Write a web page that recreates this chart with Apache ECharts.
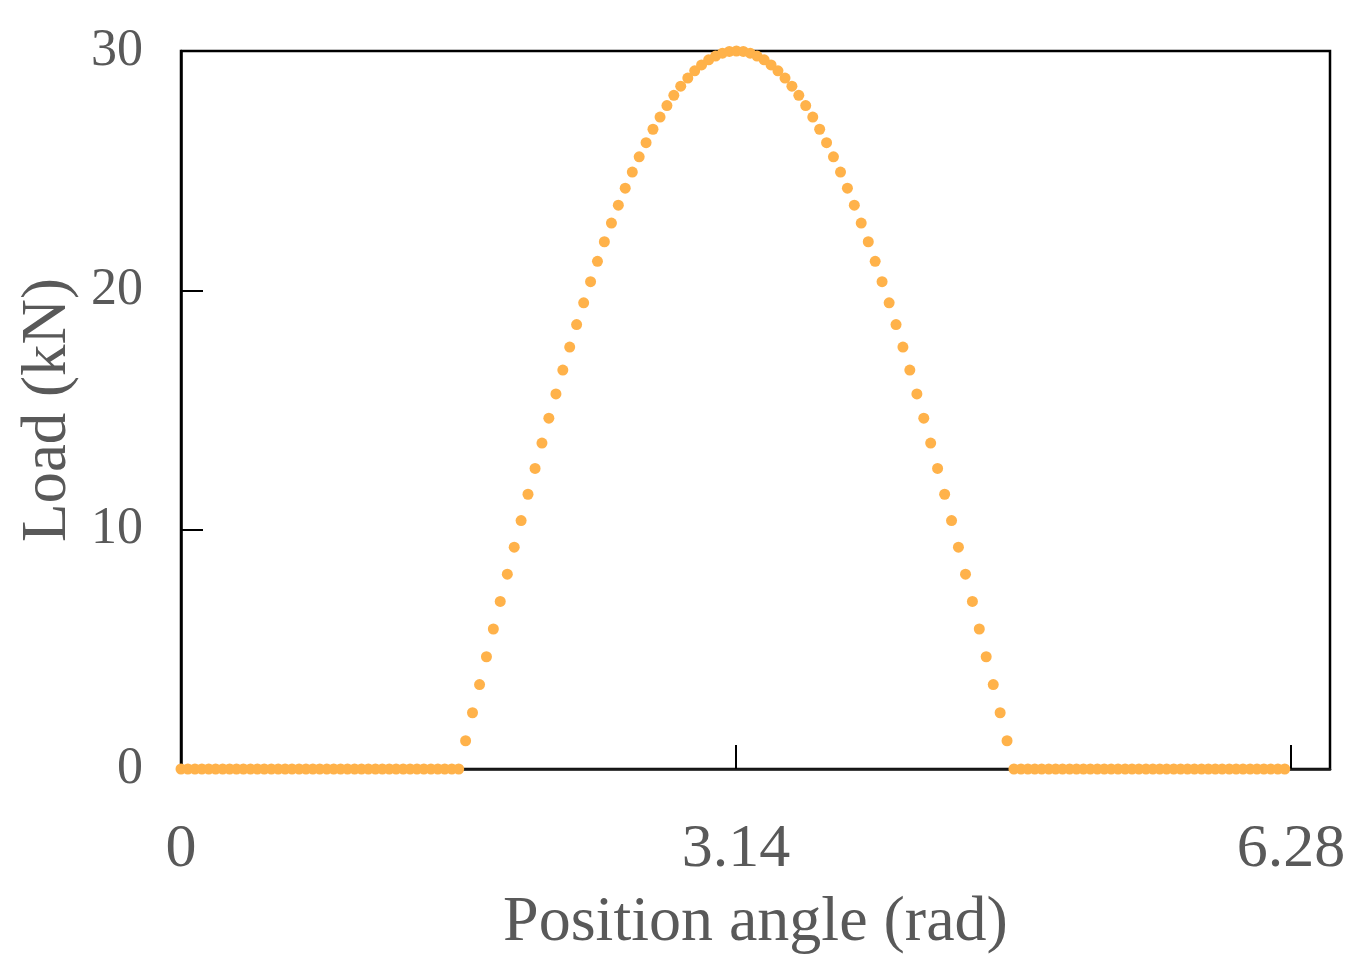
<!DOCTYPE html>
<html>
<head>
<meta charset="utf-8">
<title>Load vs position angle</title>
<script src="https://cdn.jsdelivr.net/npm/echarts@6.0.0/dist/echarts.min.js"></script>
<style>
  html, body { margin: 0; padding: 0; background: #fff; }
  #chart { width: 1368px; height: 979px; }
</style>
</head>
<body>
<div id="chart"></div>
<script>
// position angle (rad), one point every 2.25 deg
const angleRad = [
  0.000, 0.039, 0.079, 0.118, 0.157, 0.196, 0.236, 0.275, 0.314, 0.353,
  0.393, 0.432, 0.471, 0.511, 0.550, 0.589, 0.628, 0.668, 0.707, 0.746,
  0.785, 0.825, 0.864, 0.903, 0.942, 0.982, 1.021, 1.060, 1.100, 1.139,
  1.178, 1.217, 1.257, 1.296, 1.335, 1.374, 1.414, 1.453, 1.492, 1.532,
  1.571, 1.610, 1.649, 1.689, 1.728, 1.767, 1.806, 1.846, 1.885, 1.924,
  1.963, 2.003, 2.042, 2.081, 2.121, 2.160, 2.199, 2.238, 2.278, 2.317,
  2.356, 2.395, 2.435, 2.474, 2.513, 2.553, 2.592, 2.631, 2.670, 2.710,
  2.749, 2.788, 2.827, 2.867, 2.906, 2.945, 2.985, 3.024, 3.063, 3.102,
  3.142, 3.181, 3.220, 3.259, 3.299, 3.338, 3.377, 3.417, 3.456, 3.495,
  3.534, 3.574, 3.613, 3.652, 3.691, 3.731, 3.770, 3.809, 3.848, 3.888,
  3.927, 3.966, 4.006, 4.045, 4.084, 4.123, 4.163, 4.202, 4.241, 4.280,
  4.320, 4.359, 4.398, 4.438, 4.477, 4.516, 4.555, 4.595, 4.634, 4.673,
  4.712, 4.752, 4.791, 4.830, 4.869, 4.909, 4.948, 4.987, 5.027, 5.066,
  5.105, 5.144, 5.184, 5.223, 5.262, 5.301, 5.341, 5.380, 5.419, 5.459,
  5.498, 5.537, 5.576, 5.616, 5.655, 5.694, 5.733, 5.773, 5.812, 5.851,
  5.890, 5.930, 5.969, 6.008, 6.048, 6.087, 6.126, 6.165, 6.205, 6.244
];

// load (kN), same order as angleRad
const loadKN = [
  0, 0, 0, 0, 0, 0, 0, 0, 0, 0,
  0, 0, 0, 0, 0, 0, 0, 0, 0, 0,
  0, 0, 0, 0, 0, 0, 0, 0, 0, 0,
  0, 0, 0, 0, 0, 0, 0, 0, 0, 0,
  0, 1.18, 2.35, 3.53, 4.69, 5.85, 7.00, 8.14, 9.27, 10.38,
  11.48, 12.56, 13.62, 14.66, 15.67, 16.67, 17.63, 18.57, 19.48, 20.36,
  21.21, 22.03, 22.81, 23.56, 24.27, 24.94, 25.58, 26.17, 26.73, 27.24,
  27.72, 28.15, 28.53, 28.87, 29.17, 29.42, 29.63, 29.79, 29.91, 29.98,
  30.00, 29.98, 29.91, 29.79, 29.63, 29.42, 29.17, 28.87, 28.53, 28.15,
  27.72, 27.24, 26.73, 26.17, 25.58, 24.94, 24.27, 23.56, 22.81, 22.03,
  21.21, 20.36, 19.48, 18.57, 17.63, 16.67, 15.67, 14.66, 13.62, 12.56,
  11.48, 10.38, 9.27, 8.14, 7.00, 5.85, 4.69, 3.53, 2.35, 1.18,
  0, 0, 0, 0, 0, 0, 0, 0, 0, 0,
  0, 0, 0, 0, 0, 0, 0, 0, 0, 0,
  0, 0, 0, 0, 0, 0, 0, 0, 0, 0,
  0, 0, 0, 0, 0, 0, 0, 0, 0, 0
];

const xTicks = [0, 3.14, 6.28];
const yTicks = [0, 10, 20, 30];

const font = '"Liberation Serif", "DejaVu Serif", serif';
const textGrey = '#595959';

const chart = echarts.init(document.getElementById('chart'));

let points = [];
for (let i = 0; i < angleRad.length; i++) {
  points.push([angleRad[i], loadKN[i]]);
}

chart.setOption({
  animation: false,
  grid: {
    left: 181, top: 51, right: 38, bottom: 210,
    show: true,
    borderColor: '#000',
    borderWidth: 2.5
  },
  xAxis: {
    type: 'value',
    min: 0,
    max: 6.5,
    name: 'Position angle (rad)',
    nameLocation: 'middle',
    nameGap: 122,
    nameTextStyle: { fontFamily: font, fontSize: 64, color: textGrey },
    axisLine: { show: true, lineStyle: { color: '#1a1a1a', width: 2.5 } },
    axisTick: {
      show: true, inside: true, length: 24,
      customValues: xTicks,
      lineStyle: { color: '#000', width: 2 }
    },
    axisLabel: {
      customValues: xTicks,
      margin: 50,
      fontFamily: font, fontSize: 62, color: textGrey,
      formatter: v => (v === 0 ? '0' : v.toFixed(2))
    },
    splitLine: { show: false }
  },
  yAxis: {
    type: 'value',
    min: 0,
    max: 30,
    interval: 10,
    name: 'Load (kN)',
    nameLocation: 'middle',
    nameGap: 90,
    nameTextStyle: { fontFamily: font, fontSize: 63, color: textGrey },
    axisLine: { show: true, lineStyle: { color: '#000', width: 2.5 } },
    axisTick: {
      show: true, inside: true, length: 22,
      customValues: yTicks,
      lineStyle: { color: '#000', width: 2 }
    },
    axisLabel: {
      customValues: yTicks,
      margin: 38,
      fontFamily: font, fontSize: 52, color: textGrey
    },
    splitLine: { show: false }
  },
  series: [{
    type: 'scatter',
    data: points,
    symbol: 'circle',
    symbolSize: 11,
    clip: false,
    itemStyle: { color: '#FFB24A', opacity: 1 },
    z: 5
  }]
});
</script>
</body>
</html>
